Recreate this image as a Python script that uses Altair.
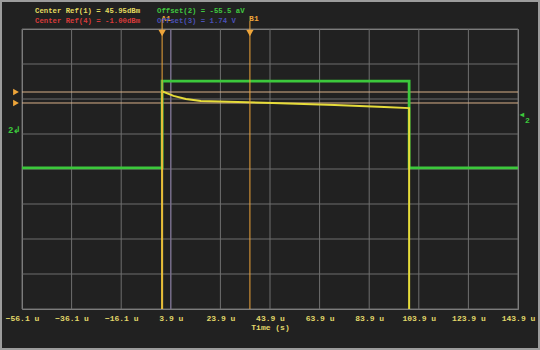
import altair as alt
import pandas as pd

# ---- data ----
tick_values = [-56.1, -36.1, -16.1, 3.9, 23.9, 43.9, 63.9, 83.9, 103.9, 123.9, 143.9]
grid_y = [-4, -3, -2, -1, 0, 1, 2, 3, 4]

green_t = [-56.1, 0.4, 0.4, 100.0, 100.0, 143.9]
green_v = [0.03, 0.03, 2.51, 2.51, 0.03, 0.03]

yellow_t = [0.4, 0.4, 5, 10, 16, 45, 70, 90, 100, 100]
yellow_v = [-4.0, 2.22, 2.09, 2.0, 1.94, 1.886, 1.83, 1.77, 1.74, -4.0]

cursor_names = ["A1", "B1"]
cursor_t = [0.4, 35.8]
hcursor_v = [2.2, 1.886]

FONT = "Liberation Mono"
BG = "#212121"
GRID = "#6f6f6f"
ORANGE = "#eea53a"
YEL = "#e6dc3a"
GRN = "#3cc83c"
LABEL = "#e2d86a"

xs = alt.Scale(domain=[-56.1, 143.9], nice=False, zero=False)
ys = alt.Scale(domain=[-4, 4], nice=False, zero=False)

green_df = pd.DataFrame({"t": green_t, "v": green_v, "o": range(len(green_t))})
yellow_df = pd.DataFrame({"t": yellow_t, "v": yellow_v, "o": range(len(yellow_t))})
cur_df = pd.DataFrame({"t": cursor_t, "name": cursor_names})
hcur_df = pd.DataFrame({"v": hcursor_v})
ticks_df = pd.DataFrame({"t": tick_values})
gy_df = pd.DataFrame({"v": grid_y})

# outer frame of the screenshot
frame = alt.Chart(pd.DataFrame({"a": [0]})).mark_rect(
    fill=None, stroke="#9c9c9c", strokeWidth=2, clip=False
).encode(x=alt.value(-21), x2=alt.value(517), y=alt.value(-28), y2=alt.value(320))

# Grid (x) with axis
xgrid = alt.Chart(ticks_df).mark_rule(color=GRID, strokeWidth=1).encode(
    x=alt.X("t:Q", scale=xs, axis=alt.Axis(
        values=tick_values, labelExpr="format(datum.value, '.1f') + ' u'",
        title="Time (s)", grid=False, ticks=False, domain=False,
        labelColor=LABEL, labelFont=FONT, labelFontSize=8, labelFontWeight="bold",
        labelPadding=5, titleColor=LABEL, titleFont=FONT, titleFontSize=8,
        titleFontWeight="bold", titlePadding=1, labelFlush=False, labelOverlap=False)),
)
ygrid = alt.Chart(gy_df).mark_rule(color=GRID, strokeWidth=1).encode(
    y=alt.Y("v:Q", scale=ys, axis=None)
)

# purple channel-3 marker line
purple = alt.Chart(pd.DataFrame({"t": [3.9]})).mark_rule(color="#7c7096", strokeWidth=1.1).encode(
    x=alt.X("t:Q", scale=xs)
)

# horizontal cursors
hcur = alt.Chart(hcur_df).mark_rule(color="#d8b088", strokeWidth=1).encode(
    y=alt.Y("v:Q", scale=ys)
)
hcur_tri = alt.Chart(hcur_df).mark_point(shape="triangle-right", filled=True, color=ORANGE,
                                         size=45, opacity=1).encode(
    y=alt.Y("v:Q", scale=ys), x=alt.value(-6)
)

# vertical cursors
vcur = alt.Chart(cur_df).mark_rule(color=ORANGE, strokeWidth=1).encode(
    x=alt.X("t:Q", scale=xs), y=alt.value(-8), y2=alt.value(280)
)
vcur_tri = alt.Chart(cur_df).mark_point(shape="triangle-down", filled=True, color=ORANGE,
                                        size=55, opacity=1).encode(
    x=alt.X("t:Q", scale=xs), y=alt.value(4)
)
vcur_txt = alt.Chart(cur_df).mark_text(color=ORANGE, font=FONT, fontSize=8, fontWeight="bold",
                                       dx=4).encode(
    x=alt.X("t:Q", scale=xs), y=alt.value(-10), text="name:N"
)

green = alt.Chart(green_df).mark_line(color=GRN, strokeWidth=2.8, clip=True).encode(
    x=alt.X("t:Q", scale=xs), y=alt.Y("v:Q", scale=ys), order="o:Q"
)
yellow = alt.Chart(yellow_df).mark_line(color=YEL, strokeWidth=2, clip=True).encode(
    x=alt.X("t:Q", scale=xs), y=alt.Y("v:Q", scale=ys), order="o:Q"
)

def txt(s, x, y, color, size=7.3, align="left"):
    return alt.Chart(pd.DataFrame({"s": [s]})).mark_text(
        color=color, font=FONT, fontSize=size, fontWeight="bold", align=align, baseline="middle"
    ).encode(text="s:N", x=alt.value(x), y=alt.value(y))

labels = [
    txt("Center Ref(1) = 45.95dBm", 13, -18, "#e4dc60"),
    txt("Offset(2) = -55.5 aV", 135, -18, "#40c840"),
    txt("Center Ref(4) = -1.00dBm", 13, -8, "#d83a3a"),
    txt("Offset(3) = 1.74 V", 135, -8, "#4a50b8"),
    txt("2\u21b2", -14, 101, GRN, 9),
    txt("\u25c2", 498, 86, GRN, 8),
    txt("2", 503, 92, GRN, 8),
]

chart = alt.layer(
    frame, xgrid, ygrid, purple, hcur, green, yellow, vcur, hcur_tri, vcur_tri, vcur_txt, *labels
).properties(
    width=496, height=280,
    background=BG,
    padding={"left": 22, "top": 29, "right": 22, "bottom": 41},
    autosize=alt.AutoSizeParams(type="none"),
).configure_view(stroke="#8a8a8a", strokeWidth=1, fill=BG)

chart.save("out.html", embed_options={"renderer": "svg", "actions": False})
